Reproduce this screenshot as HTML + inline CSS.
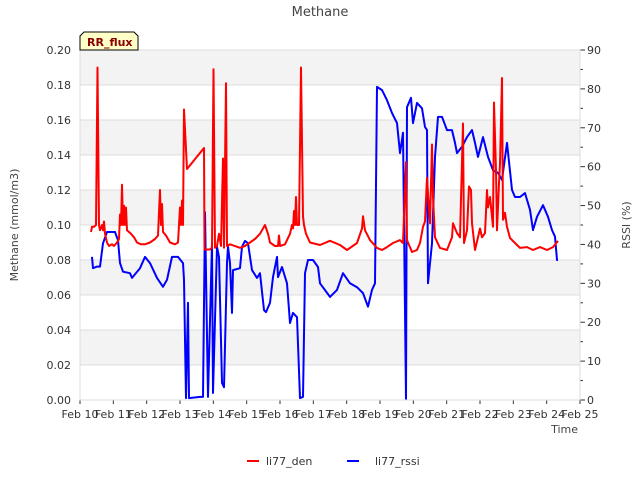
<!DOCTYPE html>
<html><head><meta charset="utf-8"><style>
body{margin:0;background:#fff;font-family:"Liberation Sans","DejaVu Sans",sans-serif}
svg text{font-family:"DejaVu Sans","Liberation Sans",sans-serif}
</style></head><body>
<svg id="c" width="640" height="480" viewBox="0 0 640 480" xmlns="http://www.w3.org/2000/svg">
<text x="320" y="16" text-anchor="middle" font-size="13" fill="#444">Methane</text>
<g id="bands"></g>
<g id="axes"></g>
<g id="series"></g>
<text transform="translate(18,225) rotate(-90)" text-anchor="middle" font-size="11" fill="#444">Methane (mmol/m3)</text>
<text transform="translate(630,225) rotate(-90)" text-anchor="middle" font-size="11" fill="#444">RSSI (%)</text>
<text x="578" y="433" text-anchor="end" font-size="11" fill="#444">Time</text>
<g>
<path d="M80,50 L80,36 L84,32 L134,32 L138,36 L138,50 Z" fill="#ffffc8" stroke="#000" stroke-width="1"/>
<text x="87" y="46" font-size="11" font-weight="bold" fill="#8b0000">RR_flux</text>
</g>
<g>
<g><line x1="247" y1="461" x2="259" y2="461" stroke="#f00" stroke-width="2"/><text x="266" y="465" font-size="11" fill="#333">li77_den</text></g>
<g><line x1="347" y1="461" x2="359" y2="461" stroke="#00f" stroke-width="2"/><text x="375" y="465" font-size="11" fill="#333">li77_rssi</text></g>
</g>
</svg>
<script>
const xTickLabels=["Feb 10","Feb 11","Feb 12","Feb 13","Feb 14","Feb 15","Feb 16","Feb 17","Feb 18","Feb 19","Feb 20","Feb 21","Feb 22","Feb 23","Feb 24","Feb 25"];
const yTicks=[0,0.02,0.04,0.06,0.08,0.10,0.12,0.14,0.16,0.18,0.20];
const y2Ticks=[0,10,20,30,40,50,60,70,80,90];
const denT=[0.33,0.36,0.42,0.48,0.525,0.57,0.6,0.66,0.69,0.72,0.75,0.81,0.87,0.96,1.02,1.11,1.17,1.2,1.23,1.26,1.29,1.32,1.35,1.38,1.41,1.47,1.53,1.62,1.71,1.83,1.95,2.1,2.25,2.34,2.4,2.43,2.46,2.49,2.58,2.7,2.85,2.94,3.0,3.03,3.06,3.09,3.12,3.21,3.72,3.735,3.9,3.96,4.005,4.05,4.11,4.17,4.23,4.29,4.32,4.38,4.41,4.5,4.8,4.95,5.1,5.25,5.4,5.55,5.64,5.7,5.85,5.94,5.97,6.0,6.15,6.3,6.36,6.39,6.42,6.45,6.48,6.51,6.57,6.63,6.69,6.72,6.78,6.9,7.2,7.5,7.8,8.01,8.31,8.46,8.49,8.55,8.7,8.91,9.06,9.21,9.39,9.6,9.69,9.78,9.81,9.96,10.11,10.2,10.29,10.35,10.41,10.5,10.56,10.59,10.65,10.8,11.01,11.16,11.19,11.31,11.4,11.49,11.52,11.61,11.67,11.73,11.76,11.85,11.94,12.0,12.06,12.15,12.21,12.24,12.3,12.39,12.42,12.48,12.51,12.57,12.6,12.66,12.69,12.75,12.81,12.9,13.11,13.2,13.41,13.59,13.8,14.01,14.19,14.34];
const denV=[.096,.099,.099,.10,.19,.10,.097,.10,.097,.102,.095,.09,.088,.089,.088,.09,.092,.106,.10,.123,.10,.111,.10,.11,.097,.096,.095,.093,.09,.089,.089,.09,.092,.094,.12,.10,.112,.096,.094,.09,.089,.09,.11,.10,.114,.10,.166,.132,.144,.086,.086,.087,.189,.087,.088,.095,.088,.138,.087,.181,.088,.089,.087,.088,.09,.092,.095,.1,.095,.09,.088,.088,.094,.088,.089,.095,.1,.098,.108,.1,.116,.1,.1,.19,.105,.1,.095,.09,.0886,.091,.0886,.0857,.0897,.098,.105,.097,.0914,.0869,.0857,.0874,.0897,.0914,.0897,.136,.0914,.0846,.0857,.0897,.099,.102,.127,.101,.146,.116,.093,.0869,.0857,.093,.101,.0954,.093,.158,.0897,.097,.122,.12,.101,.0857,.093,.098,.093,.0954,.12,.11,.116,.099,.17,.131,.097,.124,.135,.184,.103,.107,.099,.0926,.0886,.0869,.0874,.0857,.0874,.0857,.0874,.0909];
const rssiT=[0.36,0.39,0.51,0.6,0.69,0.81,1.05,1.14,1.2,1.29,1.5,1.56,1.8,1.95,2.1,2.31,2.49,2.61,2.76,2.94,3.09,3.12,3.18,3.24,3.27,3.6,3.69,3.75,3.84,3.96,3.99,4.11,4.17,4.26,4.32,4.41,4.44,4.5,4.56,4.59,4.8,4.86,4.95,5.04,5.16,5.31,5.4,5.52,5.58,5.7,5.79,5.91,5.94,6.06,6.21,6.3,6.39,6.51,6.6,6.69,6.75,6.84,6.99,7.14,7.2,7.5,7.71,7.89,8.1,8.31,8.49,8.64,8.76,8.85,8.91,9.06,9.21,9.36,9.51,9.6,9.69,9.78,9.81,9.93,9.99,10.11,10.26,10.35,10.41,10.44,10.56,10.65,10.74,10.86,11.01,11.16,11.25,11.31,11.46,11.61,11.76,11.85,11.94,12.09,12.24,12.39,12.54,12.66,12.81,12.96,13.05,13.2,13.35,13.5,13.59,13.71,13.89,14.04,14.16,14.25,14.31,14.34];
const rssiV=[36.8,33.9,34.3,34.3,40.3,43.2,43.2,41.1,35.2,33,32.6,31.4,33.9,36.8,35.2,31.4,29.1,30.9,36.8,36.8,35.2,30.9,0.5,25,0.5,0.8,0.8,48.3,0.8,40.3,1.8,39.4,36.8,4.4,3.3,35.2,39.4,35.2,22.4,33.4,33.9,39.4,40.9,40.3,33.4,31.4,32.6,23.1,22.6,25,31.6,36.8,31.6,34.2,30,19.8,22.4,21.3,0.5,0.8,32.6,36,36,34.2,30,26.5,28.3,32.6,30,29,27.5,24,28.3,30,80.5,79.7,77.1,73.8,71.2,63.5,68.7,0.3,75.3,77.7,71.2,76.4,75,70.2,69.4,30,40.3,62.5,72.8,72.8,69.4,69.4,66.1,63.5,65.1,67.6,69.4,66.1,62.5,67.6,62.5,59.1,58.4,56.6,66.1,54,52.2,52.2,53.2,48.9,43.7,47.1,50.1,47.1,43.7,42,36,36];
const L=80,R=580,T=50,B=400,NS="http://www.w3.org/2000/svg";
const xs=d=>L+d*(R-L)/15, ys=v=>B-v/0.2*(B-T), ys2=v=>B-v/90*(B-T);
function mk(tag,attrs,parent,txt){const e=document.createElementNS(NS,tag);for(const k in attrs)e.setAttribute(k,attrs[k]);if(txt!==undefined)e.textContent=txt;parent.appendChild(e);return e;}
const bands=document.getElementById('bands'),axes=document.getElementById('axes'),ser=document.getElementById('series');
for(let i=0;i<yTicks.length-1;i++){
  const y0=ys(yTicks[i+1]),y1=ys(yTicks[i]);
  const r=mk('rect',{x:L,y:y0,width:R-L,height:y1-y0,fill:(i%2===1)?'#f3f3f3':'#fff'},bands);
  
  
}
yTicks.forEach(v=>{
  const y=ys(v);
  const g=mk('line',{x1:L,x2:R,y1:y,y2:y,stroke:'#ddd','stroke-width':1},axes);
  
  
  const t=mk('text',{x:L-9,y:y+4,'text-anchor':'end','font-size':11,fill:'#333'},axes,v.toFixed(2));
  
  
});
y2Ticks.forEach(v=>{
  const y=ys2(v);
  mk('line',{x1:R,x2:R+5,y1:y,y2:y,stroke:'#333'},axes);
  if(v<90){const yh=ys2(v+5);mk('line',{x1:R,x2:R+3,y1:yh,y2:yh,stroke:'#333'},axes);}
  const t=mk('text',{x:R+7,y:y+4,'font-size':11,fill:'#333'},axes,String(v));
  
  
});
xTickLabels.forEach((s,i)=>{
  const x=xs(i);
  mk('line',{x1:x,x2:x,y1:B,y2:B+4,stroke:'#333'},axes);
  const t=mk('text',{x:x,y:B+18,'text-anchor':'middle','font-size':11,fill:'#333'},axes,s);
  
  
});
mk('rect',{x:L,y:T,width:R-L,height:B-T,fill:'none',stroke:'#ddd'},axes);
const pd=denT.map((t,i)=>xs(t).toFixed(1)+','+ys(denV[i]).toFixed(1)).join(' ');
const pr=rssiT.map((t,i)=>xs(t).toFixed(1)+','+ys2(rssiV[i]).toFixed(1)).join(' ');
const lr=mk('polyline',{points:pr,fill:'none',stroke:'#00f','stroke-width':2,'stroke-linejoin':'round'},ser);


const ld=mk('polyline',{points:pd,fill:'none',stroke:'#f00','stroke-width':2,'stroke-linejoin':'round'},ser);


</script>
</body></html>
